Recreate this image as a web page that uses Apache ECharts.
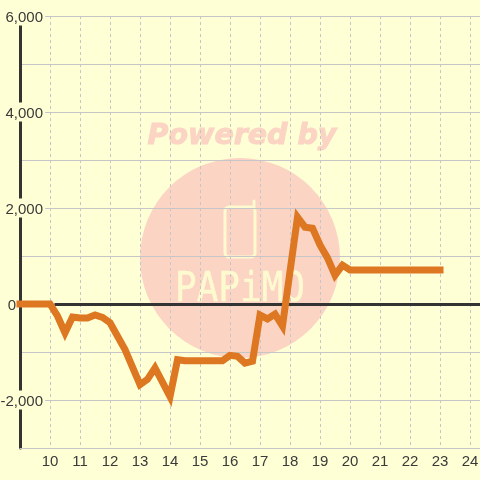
<!DOCTYPE html>
<html><head><meta charset="utf-8">
<style>html,body{margin:0;padding:0;background:#ffffd5}#c{width:480px;height:480px}</style>
<script src="https://cdn.jsdelivr.net/npm/echarts@6/dist/echarts.min.js"></script>
</head><body><div id="c"></div>
<script>
var hours=[9,10,10.25,10.5,10.75,11,11.25,11.5,11.75,12,12.5,13,13.25,13.5,14,14.25,14.5,15,15.5,15.75,16,16.25,16.5,16.75,17,17.25,17.5,17.75,18.25,18.5,18.75,19,19.25,19.5,19.75,20,21,22,23];
var values=[0,0,-250,-600,-270,-290,-290,-230,-280,-390,-950,-1680,-1570,-1330,-1930,-1160,-1180,-1180,-1180,-1180,-1070,-1090,-1230,-1190,-230,-310,-210,-460,1810,1600,1580,1230,960,600,810,710,710,710,710];
var yTicks=[-2000,0,2000,4000,6000];
var bg='#ffffd5',wm='#fbd4c4',logo='#fefad0',ink='#3a3a3a',grid='#c6c6c8';
var data=hours.map(function(h,i){return [h,values[i]];});
var chart=echarts.init(document.getElementById('c'),null,{renderer:'canvas'});
function seg(points){return {type:'polyline',z:-9,shape:{points:points},style:{fill:null,stroke:logo,lineWidth:3,lineCap:'round',lineJoin:'round'}};}
chart.setOption({
 animation:false,backgroundColor:bg,
 grid:{left:20,right:0,top:16,bottom:32,outerBoundsMode:'none',containLabel:false},
 graphic:[
  {type:'circle',z:-10,shape:{cx:240,cy:258,r:100},style:{fill:wm}},
  {type:'text',z:-10,x:242,y:137,style:{text:'Powered by',fill:wm,stroke:wm,lineWidth:1,font:'italic bold 28.5px "DejaVu Sans"',align:'center',verticalAlign:'middle'}},
  {type:'rect',z:-9,shape:{x:225,y:207,width:30,height:50,r:4},style:{fill:null,stroke:logo,lineWidth:3}},
  seg([[254,207],[254,201]]),
  {type:'text',z:-9,x:240,y:290,scaleY:1.15,style:{text:'PAPiMO',fill:logo,stroke:logo,lineWidth:0.4,font:'36px "DejaVu Sans Mono"',align:'center',verticalAlign:'middle'}}
 ],
 xAxis:[{type:'value',min:9,max:24.3333,interval:1,position:'bottom',
  axisLine:{onZero:false,lineStyle:{color:grid,width:1}},axisTick:{show:false},
  axisLabel:{color:ink,fontSize:15,fontFamily:'Liberation Sans',margin:6,showMinLabel:false,showMaxLabel:false},
  splitLine:{show:true,showMinLine:false,showMaxLine:false,lineStyle:{color:grid,type:[3,3],width:1}}}],
 yAxis:[{type:'value',min:-3000,max:6000,interval:1000,position:'left',
  axisLine:{show:true,onZero:false,lineStyle:{color:'#333333',width:3}},axisTick:{show:false},
  axisLabel:{color:ink,fontSize:15,fontFamily:'Liberation Sans',margin:-25,
   rich:{n:{color:ink,fontSize:15,fontFamily:'Liberation Sans',backgroundColor:bg,padding:[4,2,0,2]},z:{color:ink,fontSize:15,fontFamily:'Liberation Sans',padding:[4,29,0,0]}},
   formatter:function(v){if(yTicks.indexOf(v)<0)return '';return (v===0?'{z|':'{n|')+v.toLocaleString('en-US')+'}';}},
  splitLine:{show:true,lineStyle:{color:grid,width:1}}}],
 series:[{type:'line',data:data,symbol:'none',clip:false,z:5,
  lineStyle:{color:'#dd7722',width:7,cap:'square',join:'miter'},
  markLine:{silent:true,symbol:'none',label:{show:false},z:3,lineStyle:{color:'#333333',width:3,type:'solid'},data:[[{coord:[10.15,0]},{coord:[24.3333,0]}]]}}]
});
</script></body></html>
